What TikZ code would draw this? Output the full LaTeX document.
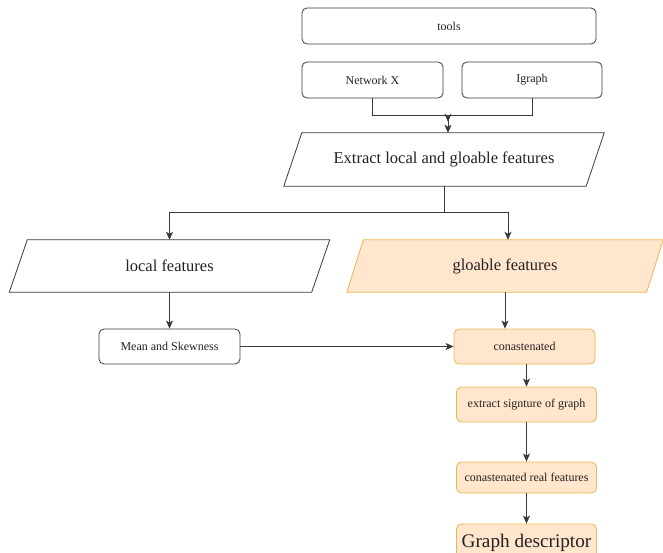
\documentclass[tikz,border=0pt]{standalone}
\usepackage{fontspec}
\setmainfont{Liberation Serif}
\usetikzlibrary{arrows.meta,backgrounds}
\definecolor{ln}{HTML}{3A3A3A}
\definecolor{txt}{HTML}{222222}
\definecolor{orfill}{HTML}{FFE6CC}
\definecolor{orline}{HTML}{EDB552}
% parallelogram outline around a (borderless) node: #1 node, #2 slant, #3 path style
\newcommand\pgramoutline[3]{%
  \begin{pgfonlayer}{background}
    \path[#3] ([xshift=#2]#1.north west) -- (#1.north east)
      -- ([xshift=-#2]#1.south east) -- (#1.south west) -- cycle;
  \end{pgfonlayer}}
\begin{document}
\begin{tikzpicture}[x=1pt,y=-1pt,
  box/.style={draw=ln, line width=0.8pt, rounded corners=5pt, fill=white,
    font=\fontsize{12}{14}\selectfont, text=txt, inner sep=0pt},
  obox/.style={box, draw=orline, fill=orfill},
  pgram/.style={inner sep=0pt, text=txt, font=\fontsize{16.5}{19}\selectfont},
  wline/.style={draw=ln, line width=0.8pt, fill=white},
  oline/.style={draw=orline, line width=0.8pt, fill=orfill},
  arr/.style={draw=ln, line width=0.8pt, -{Stealth[length=8pt,width=7pt,inset=2pt]}},
  link/.style={draw=ln, line width=0.8pt}]
\clip (0,0) rectangle (663,552);

% tool boxes
\node[box, minimum width=294pt, minimum height=36pt] (tools) at (449,26) {tools};
\node[box, minimum width=141pt, minimum height=36pt] (netx) at (372.5,80) {Network X};
\node[box, minimum width=140pt, minimum height=36pt] (igraph) at (532,80) {Igraph};

% feature extraction
\node[pgram, minimum width=320pt, minimum height=53pt] (extract) at (444,159.5)
  {Extract local and gloable features};
\pgramoutline{extract}{18pt}{wline}

\node[pgram, minimum width=320pt, minimum height=52pt] (local) at (169.5,266)
  {local features};
\pgramoutline{local}{18pt}{wline}

\node[pgram, minimum width=316pt, minimum height=52pt] (global) at (505,266)
  {gloable features};
\pgramoutline{global}{16.5pt}{oline}

% processing chain
\node[box, minimum width=141pt, minimum height=35pt] (mean) at (169.5,346.5) {Mean and Skewness};
\node[obox, minimum width=141pt, minimum height=35pt] (conc) at (524.5,346.5) {conastenated};
\node[obox, minimum width=140pt, minimum height=35pt] (sig) at (526.5,404.5) {extract signture of graph};
\node[obox, minimum width=140pt, minimum height=31pt] (real) at (526.5,477.5) {conastenated real features};
\node[obox, minimum width=140pt, minimum height=38pt, font=\fontsize{19.2}{22}\selectfont] (desc) at (526.5,543) {Graph descriptor};

% connectors
\coordinate (join) at (448,115);
\draw[arr] (netx.south) |- (join) -- (join |- extract.north);
\draw[arr, shorten >=11pt] (igraph.south) |- (join) -- (join |- extract.north);

\coordinate (split) at (444,212);
\draw[link] (extract.south -| split) -- (split);
\draw[arr] (split) -| (local.north);
\draw[arr] (split) -| (global.north -| 508,0);

\draw[arr] (local.south) -- (mean.north);
\draw[arr] (global.south) -- (global.south |- conc.north);
\draw[arr] (mean.east) -- (conc.west);
\draw[arr] (sig.north |- conc.south) -- (sig.north);
\draw[arr] (sig.south) -- (real.north);
\draw[arr] (real.south) -- (desc.north);
\end{tikzpicture}
\end{document}
